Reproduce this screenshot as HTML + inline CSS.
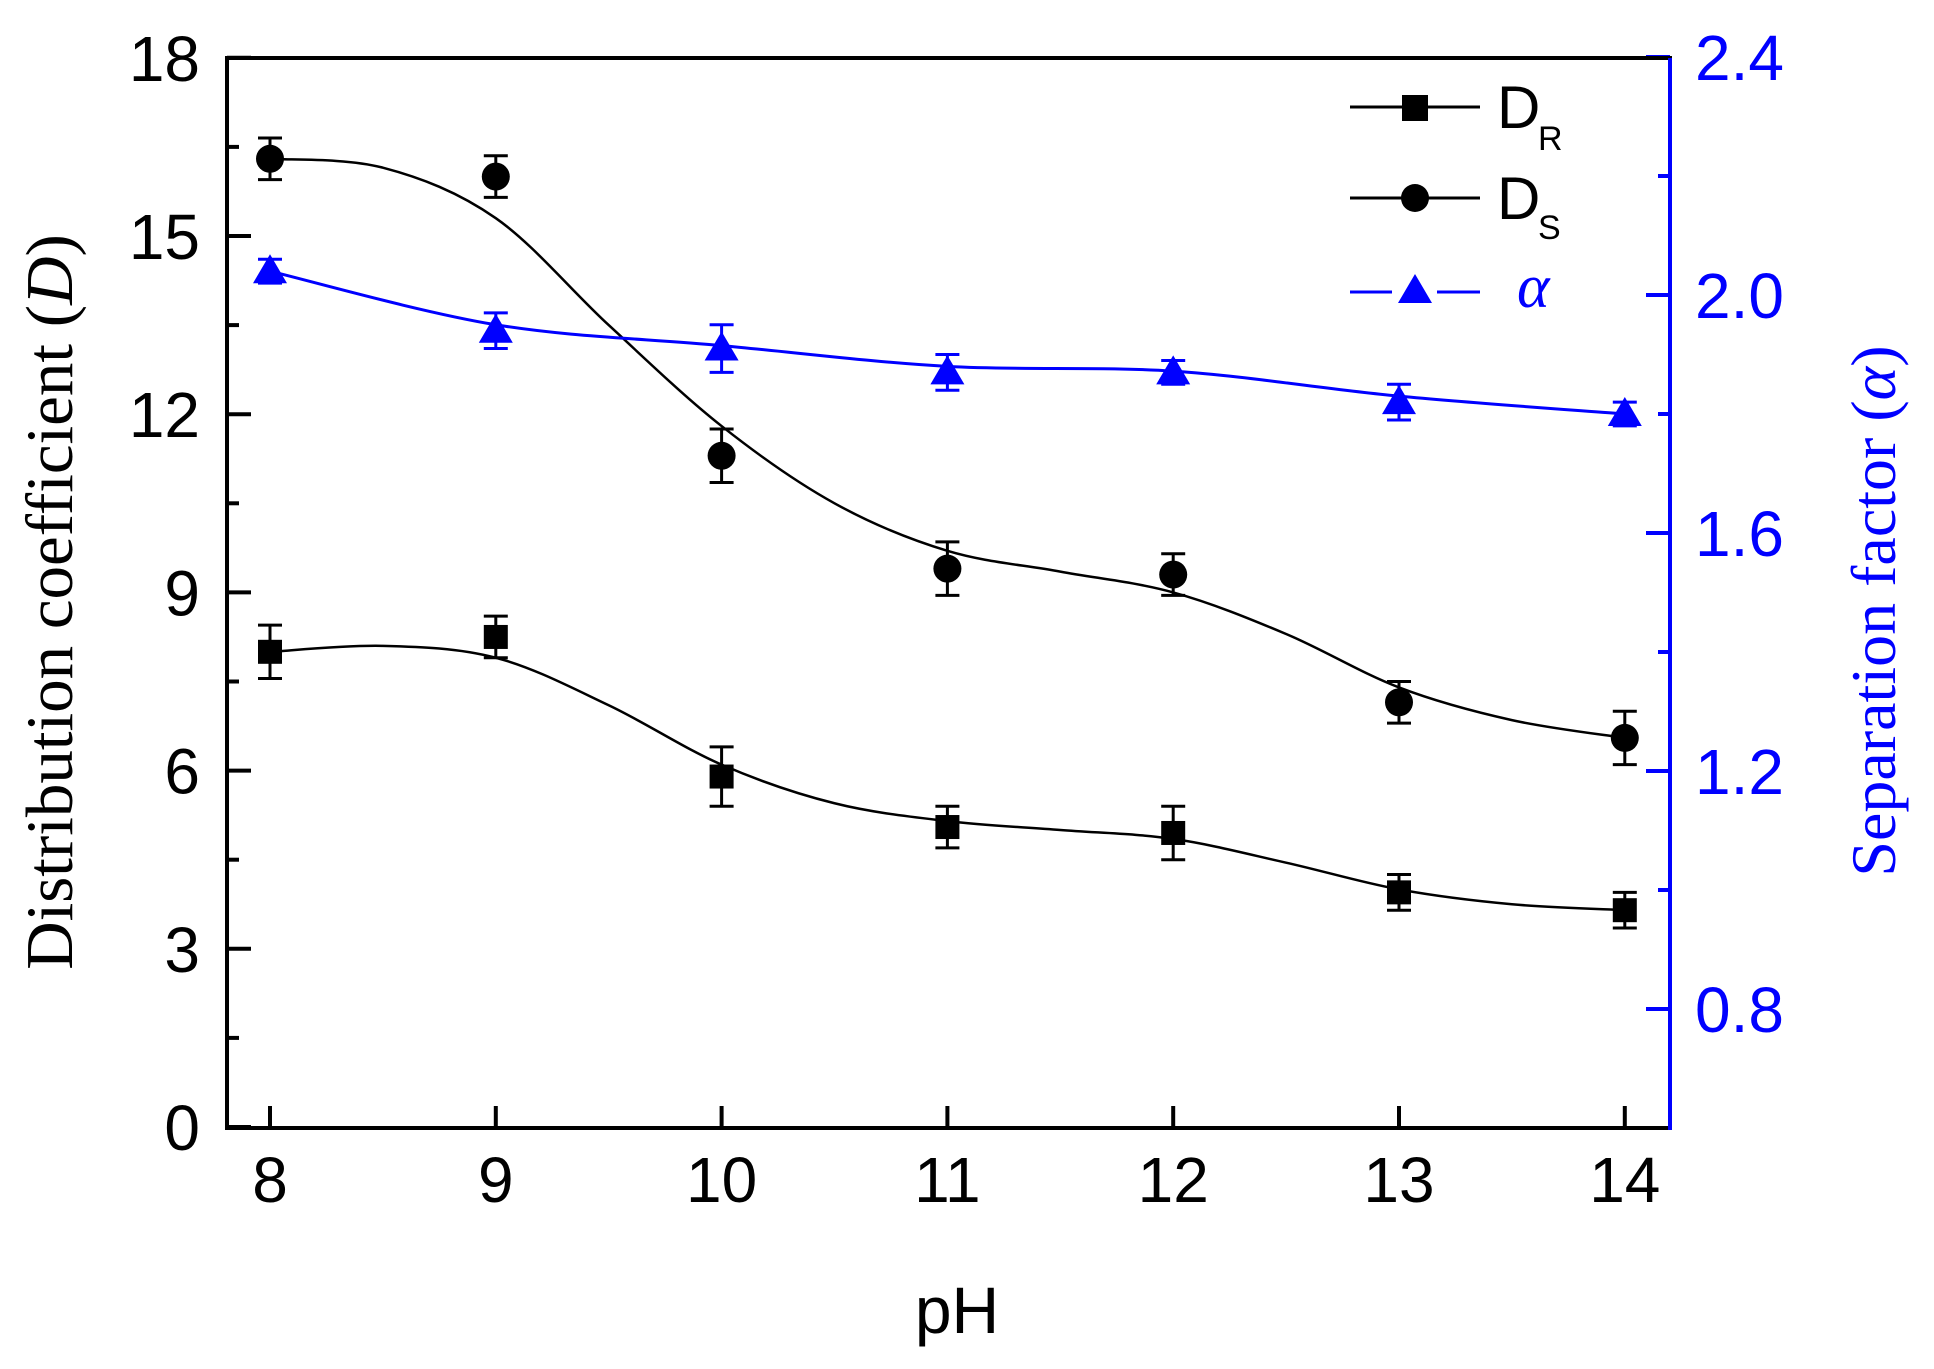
<!DOCTYPE html>
<html><head><meta charset="utf-8"><style>
html,body{margin:0;padding:0;background:#fff;}
svg{display:block;}
</style></head><body>
<svg id="c" width="1934" height="1369" xmlns="http://www.w3.org/2000/svg">
<g id="g"></g>
<line x1="227" y1="58" x2="1672" y2="58" stroke="#000" stroke-width="4"/>
<line x1="227" y1="56" x2="227" y2="1130" stroke="#000" stroke-width="4"/>
<line x1="225" y1="1128" x2="1672" y2="1128" stroke="#000" stroke-width="4"/>
<line x1="1670" y1="58" x2="1670" y2="1130" stroke="#00f" stroke-width="4"/>
<g font-family="Liberation Sans, Arial, sans-serif" font-size="64" fill="#000" text-anchor="end" id="yl"></g>
<g font-family="Liberation Sans, Arial, sans-serif" font-size="64" fill="#000" text-anchor="middle" id="xl"></g>
<g font-family="Liberation Sans, Arial, sans-serif" font-size="64" fill="#00f" id="rl"></g>
<text x="957" y="1333" font-family="Liberation Sans, Arial, sans-serif" font-size="66" text-anchor="middle">pH</text>
<text transform="translate(72,602) rotate(-90)" font-family="Liberation Serif, Times New Roman, serif" font-size="67" text-anchor="middle">Distribution coefficient (<tspan font-style="italic">D</tspan>)</text>
<text transform="translate(1895,611) rotate(-90)" font-family="Liberation Serif, Times New Roman, serif" font-size="64" text-anchor="middle" fill="#00f">Separation factor (<tspan font-style="italic">α</tspan>)</text>
<line x1="1350" y1="107" x2="1480" y2="107" stroke="#000" stroke-width="3"/>
<rect x="1402" y="95" width="26" height="26" fill="#000"/>
<text x="1497" y="128" font-family="Liberation Sans, Arial, sans-serif" font-size="60">D</text>
<text x="1538" y="150" font-family="Liberation Sans, Arial, sans-serif" font-size="34">R</text>
<line x1="1350" y1="198" x2="1480" y2="198" stroke="#000" stroke-width="3"/>
<circle cx="1415" cy="198" r="14" fill="#000"/>
<text x="1497" y="219" font-family="Liberation Sans, Arial, sans-serif" font-size="60">D</text>
<text x="1538" y="239" font-family="Liberation Sans, Arial, sans-serif" font-size="34">S</text>
<line x1="1350" y1="292" x2="1392" y2="292" stroke="#00f" stroke-width="3"/>
<line x1="1437" y1="292" x2="1480" y2="292" stroke="#00f" stroke-width="3"/>
<polygon points="1415,274 1398,303 1432,303" fill="#00f"/>
<text x="1517" y="307" font-family="Liberation Serif, Times New Roman, serif" font-style="italic" font-size="62" fill="#00f">α</text>
</svg>
<script>
var NS="http://www.w3.org/2000/svg";
function el(p,t,a,txt){var e=document.createElementNS(NS,t);for(var k in a)e.setAttribute(k,a[k]);if(txt!==undefined)e.textContent=txt;p.appendChild(e);return e;}
var g=document.getElementById('g');
function X(p){return 270+(p-8)*225.8;}
function Y(v){return 1127-v*59.4;}
function A(a){return 1128-(a-0.6)*595;}
for(var v=0;v<=18;v+=1.5){var y=Y(v);var major=(v%3===0);el(g,'line',{x1:227,y1:y,x2:227+(major?24:12),y2:y,stroke:'#000','stroke-width':4});
 if(major)el(document.getElementById('yl'),'text',{x:200,y:y+23},String(v));}
for(var p=8;p<=14;p++){el(g,'line',{x1:X(p),y1:1128,x2:X(p),y2:1106,stroke:'#000','stroke-width':4});
 el(document.getElementById('xl'),'text',{x:X(p),y:1202},String(p));}
for(var i=0;i<=9;i++){var a=0.6+i*0.2;var y=A(a);var major=(i%2===1);el(g,'line',{x1:1670,y1:y,x2:1670-(major?24:12),y2:y,stroke:'#00f','stroke-width':4});
 if(major)el(document.getElementById('rl'),'text',{x:1695,y:y+23},a.toFixed(1));}
function curve(pts,col,w){var P=pts;var d='M'+P[0][0]+','+P[0][1];
 for(var i=0;i<P.length-1;i++){var p0=P[i-1]||P[i],p1=P[i],p2=P[i+1],p3=P[i+2]||P[i+1];
 var c1=[p1[0]+(p2[0]-p0[0])/6,p1[1]+(p2[1]-p0[1])/6],c2=[p2[0]-(p3[0]-p1[0])/6,p2[1]-(p3[1]-p1[1])/6];
 d+=' C'+c1+' '+c2+' '+p2;}
 el(g,'path',{d:d,fill:'none',stroke:col,'stroke-width':w});}
var ds=[[8,16.3],[8.5,16.15],[9,15.3],[9.5,13.5],[10,11.8],[10.5,10.5],[11,9.7],[11.5,9.35],[12,9.0],[12.5,8.3],[13,7.4],[13.5,6.85],[14,6.55]];
var dr=[[8,8.0],[8.5,8.1],[9,7.9],[9.5,7.1],[10,6.1],[10.5,5.45],[11,5.15],[11.5,5.0],[12,4.85],[12.5,4.45],[13,4.0],[13.5,3.75],[14,3.65]];
var al=[[8,2.04],[9,1.95],[10,1.915],[11,1.88],[12,1.872],[13,1.83],[14,1.80]];
curve(ds.map(function(q){return[X(q[0]),Y(q[1])]}),'#000',2.5);
curve(dr.map(function(q){return[X(q[0]),Y(q[1])]}),'#000',2.5);
curve(al.map(function(q){return[X(q[0]),A(q[1])]}),'#00f',3);
function eb(x,y1,y2,col){el(g,'line',{x1:x,y1:y1,x2:x,y2:y2,stroke:col,'stroke-width':3});
 el(g,'line',{x1:x-12,y1:y1,x2:x+12,y2:y1,stroke:col,'stroke-width':3});el(g,'line',{x1:x-12,y1:y2,x2:x+12,y2:y2,stroke:col,'stroke-width':3});}
var DR=[8.0,8.25,5.9,5.05,4.95,3.95,3.65],DRe=[0.45,0.35,0.5,0.35,0.45,0.3,0.3];
var DS=[16.3,16.0,11.3,9.4,9.3,7.15,6.55],DSe=[0.35,0.35,0.45,0.45,0.35,0.35,0.45];
var AL=[2.04,1.94,1.91,1.87,1.87,1.82,1.80],ALe=[0.02,0.03,0.04,0.03,0.02,0.03,0.02];
for(var i=0;i<7;i++){var x=X(8+i);
 eb(x,Y(DR[i]+DRe[i]),Y(DR[i]-DRe[i]),'#000');el(g,'rect',{x:x-12,y:Y(DR[i])-12,width:24,height:24,fill:'#000'});
 eb(x,Y(DS[i]+DSe[i]),Y(DS[i]-DSe[i]),'#000');el(g,'circle',{cx:x,cy:Y(DS[i]),r:14,fill:'#000'});
 eb(x,A(AL[i]+ALe[i]),A(AL[i]-ALe[i]),'#00f');var y=A(AL[i]);
 el(g,'polygon',{points:(x)+','+(y-17)+' '+(x-17)+','+(y+12)+' '+(x+17)+','+(y+12),fill:'#00f'});}
</script>
</body></html>
